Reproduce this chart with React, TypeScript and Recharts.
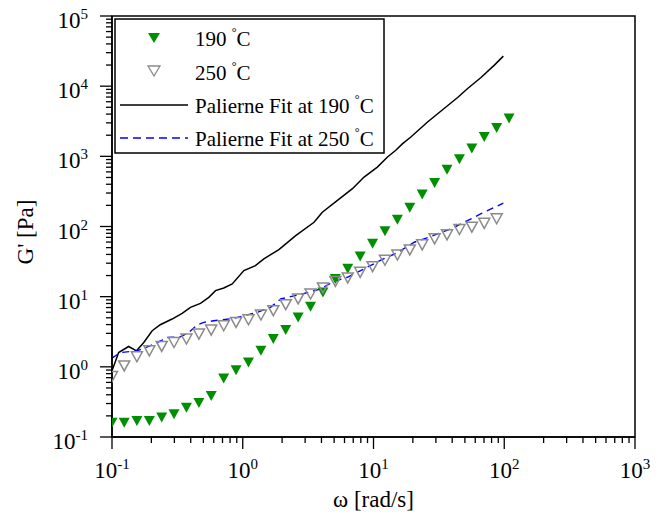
import React from "react";
import {
  ComposedChart,
  XAxis,
  YAxis,
  Scatter,
  Line,
  ReferenceArea,
  Legend,
} from "recharts";

// angular frequency (rad/s) of the measured points
const omega = [
  0.1, 0.124, 0.155, 0.193, 0.24, 0.298, 0.371, 0.462, 0.574, 0.715, 0.889,
  1.106, 1.377, 1.713, 2.131, 2.652, 3.299, 4.105, 5.108, 6.355, 7.907, 9.838,
  12.24, 15.23, 18.95, 23.58, 29.34, 36.5, 45.42, 56.51, 70.31, 87.48, 108.8,
];

// G' at 190 C (Pa)
const g190 = [
  0.16, 0.16, 0.169, 0.169, 0.189, 0.211, 0.262, 0.306, 0.385, 0.681, 0.897,
  1.15, 1.69, 2.49, 3.34, 5.06, 7.2, 11.5, 17.9, 24.9, 37.3, 56.6, 85.7, 125,
  185, 286, 416, 646, 906, 1288, 1888, 2535, 3459,
];

// G' at 250 C (Pa), one point fewer
const g250 = [
  0.726, 1.03, 1.39, 1.69, 1.95, 2.22, 2.49, 2.93, 3.34, 3.85, 4.29, 4.69,
  5.48, 6.31, 7.69, 9.27, 10.9, 13.3, 16.5, 18.5, 22.2, 26.8, 33, 39.2, 46.4,
  54.8, 66.7, 76.1, 90.6, 97.7, 111, 129,
];

// Palierne fit at 190 C
const fit190W = [
  0.1, 0.1124, 0.134, 0.154, 0.175, 0.203, 0.234, 0.288, 0.344, 0.398, 0.475,
  0.55, 0.619, 0.716, 0.831, 1.02, 1.25, 1.45, 1.89, 2.54, 3.51, 4.06, 5.3,
  6.9, 8.47, 10.7, 12.8, 14.8, 16.7, 19.3, 25.9, 44.0, 52.5, 66.4, 84.0, 98.4,
];
const fit190G = [
  0.877, 1.6, 1.95, 1.69, 2.22, 3.27, 3.98, 4.8, 5.77, 7.03, 8.02, 9.77, 12.2,
  13.3, 15.2, 23.5, 27.7, 34.6, 46.9, 74.3, 115, 160, 235, 346, 506, 703, 977,
  1219, 1518, 1888, 3090, 6900, 9270, 13300, 19950, 26800,
];

// Palierne fit at 250 C
const fit250W = [
  0.1, 0.116, 0.155, 0.197, 0.242, 0.264, 0.334, 0.386, 0.448, 0.504, 0.6,
  0.855, 1.02, 1.29, 1.63, 1.95, 2.32, 2.94, 3.95, 4.99, 6.32, 8.47, 11.4,
  15.3, 20.5, 27.5, 39.1, 49.5, 66.4, 98.4,
];
const fit250G = [
  1.33, 1.6, 1.69, 2.0, 2.41, 2.62, 2.68, 3.09, 3.94, 4.3, 4.54, 4.9, 5.35,
  5.97, 7.03, 9.27, 10, 11.1, 12.9, 16.5, 18.9, 24.9, 33.2, 42.5, 59.7, 72.0,
  92.7, 115, 152, 215,
];

const xDecades = [0.1, 1, 10, 100, 1000];
const yDecades = [0.1, 1, 10, 100, 1000, 10000, 100000];
const minorSteps = [2, 3, 4, 5, 6, 7, 8, 9];

const withMinors = (decades: number[]) => {
  const out: number[] = [];
  decades.forEach((d, i) => {
    out.push(d);
    if (i < decades.length - 1) minorSteps.forEach((m) => out.push(d * m));
  });
  return out;
};

const pts = (xs: number[], ys: number[]) => ys.map((y, i) => ({ x: xs[i], y }));

const s190 = pts(omega, g190);
const s250 = pts(omega, g250);
const f190 = pts(fit190W, fit190G);
const f250 = pts(fit250W, fit250G);

const FONT = "'Liberation Serif', 'Times New Roman', serif";
const GREEN = "#008f00";
const GREY = "#8a8a8a";

const exponentOf = (v: number) => {
  const l = Math.log10(v);
  const r = Math.round(l);
  return Math.abs(l - r) < 1e-6 ? r : null;
};

const XTick = ({ x, y, payload }: any) => {
  const e = exponentOf(payload.value);
  return (
    <g>
      <line x1={x} x2={x} y1={y} y2={y + (e !== null ? 12 : 6)} stroke="#000" strokeWidth={1.3} />
      {e !== null && (
        <text x={x} y={y + 41} textAnchor="middle" fontFamily={FONT} fontSize={23} fill="#000">
          10
          <tspan dy={-9} fontSize={15}>
            {e}
          </tspan>
        </text>
      )}
    </g>
  );
};

const YTick = ({ x, y, payload }: any) => {
  const e = exponentOf(payload.value);
  return (
    <g>
      <line x1={x - (e !== null ? 12 : 6)} x2={x} y1={y} y2={y} stroke="#000" strokeWidth={1.3} />
      {e !== null && (
        <text x={x - 24} y={y + 12} textAnchor="end" fontFamily={FONT} fontSize={23} fill="#000">
          10
          <tspan dy={-9} fontSize={15}>
            {e}
          </tspan>
        </text>
      )}
    </g>
  );
};

const triPath = (cx: number, cy: number) =>
  `M${cx - 5.5},${cy - 5}L${cx + 5.5},${cy - 5}L${cx},${cy + 5}Z`;

const FilledTri = ({ cx, cy }: any) => <path d={triPath(cx, cy)} fill={GREEN} />;
const OpenTri = ({ cx, cy }: any) => (
  <path d={triPath(cx, cy)} fill="none" stroke={GREY} strokeWidth={1.5} />
);

const Deg = ({ t }: { t: string }) => (
  <>
    {t}
    <tspan dy={-10} fontSize={12}>
      °
    </tspan>
    <tspan dy={10}>C</tspan>
  </>
);

const LegendBox = () => (
  <svg width={272} height={137} style={{ display: "block" }}>
    <rect x={1} y={1} width={269} height={134} fill="#fff" stroke="#000" strokeWidth={1.5} />
    <g fontFamily={FONT} fontSize={21} fill="#000">
      <path d="M34,15L46,15L40,25Z" fill={GREEN} />
      <text x={81} y={28}>
        <Deg t="190 " />
      </text>
      <path d="M34,48L46,48L40,58Z" fill="none" stroke={GREY} strokeWidth={1.3} />
      <text x={81} y={62}>
        <Deg t="250 " />
      </text>
      <line x1={6} x2={74} y1={87} y2={87} stroke="#000" strokeWidth={1.5} />
      <text x={81} y={95}>
        <Deg t="Palierne Fit at 190 " />
      </text>
      <line x1={6} x2={74} y1={120} y2={120} stroke="#0000ff" strokeWidth={1.4} strokeDasharray="8 5" />
      <text x={81} y={128}>
        <Deg t="Palierne Fit at 250 " />
      </text>
    </g>
  </svg>
);

export default function App() {
  return (
    <div style={{ position: "absolute", left: 0, top: 0, background: "#fff" }}>
      <ComposedChart width={665} height={517} margin={{ top: 16, right: 30, bottom: 0, left: 0 }}>
        <XAxis
          dataKey="x"
          type="number"
          scale="log"
          domain={[0.1, 1000]}
          allowDataOverflow
          ticks={withMinors(xDecades)}
          interval={0}
          tickSize={0}
          tickMargin={0}
          tick={(p: any) => <XTick {...p} />}
          axisLine={{ stroke: "#000", strokeWidth: 1.5 }}
          height={80}
          label={{
            value: "ω [rad/s]",
            position: "insideBottom",
            offset: 10,
            style: { fontFamily: FONT, fontSize: 23, fill: "#000" },
          }}
        />
        <YAxis
          dataKey="y"
          type="number"
          scale="log"
          domain={[0.1, 100000]}
          allowDataOverflow
          ticks={withMinors(yDecades)}
          interval={0}
          tickSize={0}
          tickMargin={0}
          tick={(p: any) => <YTick {...p} />}
          axisLine={{ stroke: "#000", strokeWidth: 1.5 }}
          width={112}
          label={{
            content: () => (
              <text
                x={33}
                y={232}
                transform="rotate(-90 33 232)"
                textAnchor="middle"
                fontFamily={FONT}
                fontSize={23}
                fill="#000"
              >
                G' [Pa]
              </text>
            ),
          }}
        />
        <ReferenceArea
          x1={0.1}
          x2={1000}
          y1={0.1}
          y2={100000}
          fill="none"
          stroke="#000"
          strokeWidth={1.5}
          ifOverflow="visible"
        />
        <Scatter data={s190} shape={<FilledTri />} isAnimationActive={false} />
        <Scatter data={s250} shape={<OpenTri />} isAnimationActive={false} />
        <Line
          data={f190}
          dataKey="y"
          type="linear"
          stroke="#000"
          strokeWidth={1.5}
          dot={false}
          isAnimationActive={false}
        />
        <Line
          data={f250}
          dataKey="y"
          type="linear"
          stroke="#0000ff"
          strokeWidth={1.4}
          strokeDasharray="7 5"
          dot={false}
          isAnimationActive={false}
        />
        <Legend
          layout="vertical"
          align="center"
          verticalAlign="middle"
          wrapperStyle={{ left: 114, top: 18, width: 272, height: 137 }}
          content={() => <LegendBox />}
        />
      </ComposedChart>
    </div>
  );
}
